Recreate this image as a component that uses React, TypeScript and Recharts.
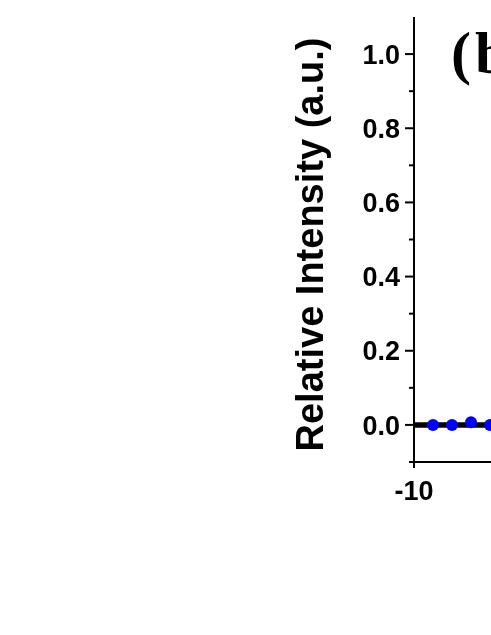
import React from 'react';
import { ComposedChart, Line, XAxis, YAxis } from 'recharts';

// ---- data ----
const fitX = [-10, -9.5, -9, -8.5, -8, -7.5, -7];
const fitY = [0, 0, 0, 0, 0, 0, 0];
const dotX = [-9.5, -9, -8.5, -8, -7.5];
const dotY = [0.0, 0.0, 0.007, 0.0, 0.0];
const xTicks = [-10];
const yTicks = [-0.1, 0, 0.1, 0.2, 0.3, 0.4, 0.5, 0.6, 0.7, 0.8, 0.9, 1.0];
const yLabel = 'Relative Intensity (a.u.)';
const panelLabel = '(b)';

const fitData = fitX.map((x, i) => ({ x, y: fitY[i] }));
const dotData = dotX.map((x, i) => ({ x, y: dotY[i] }));

const SANS = 'Arial, "Liberation Sans", sans-serif';
const SERIF = '"Times New Roman", "Liberation Serif", serif';
const Y_TICK_SIZE = 9;
const Y_TICK_MARGIN = 5;

const YTick = (props: any) => {
  const { x, y, payload } = props;
  const v = payload.value as number;
  const axisX = x + Y_TICK_SIZE + Y_TICK_MARGIN;
  const major = Math.abs(Math.round(v * 10)) % 2 === 0 && v >= 0;
  return (
    <g>
      <line x1={axisX - (major ? 9 : 5)} x2={axisX} y1={y} y2={y} stroke="#000" strokeWidth={2} />
      {major && (
        <text x={x} y={y} dy="0.355em" textAnchor="end" fontFamily={SANS} fontWeight="bold" fontSize={27} fill="#000">
          {v.toFixed(1)}
        </text>
      )}
    </g>
  );
};

// Axis title plus the panel label, positioned relative to the y-axis box
const YLabel = (props: any) => {
  const vb = props.viewBox || {};
  const cx = vb.x + vb.width - 91;
  const cy = vb.y + vb.height / 2 + 5;
  const plotLeft = vb.x + vb.width;
  return (
    <g>
      <text
        x={cx}
        y={cy}
        transform={`rotate(-90, ${cx}, ${cy})`}
        textAnchor="middle"
        fontFamily={SANS}
        fontWeight="bold"
        fontSize={38}
        fill="#000"
      >
        {yLabel}
      </text>
      <text
        x={plotLeft + 37}
        y={vb.y + 56}
        fontFamily={SERIF}
        fontWeight="bold"
        fontSize={60}
        letterSpacing={4}
        fill="#000"
      >
        {panelLabel}
      </text>
    </g>
  );
};

export default function App() {
  return (
    <div style={{ position: 'fixed', left: 8, top: 8, right: 0, height: 560, overflow: 'hidden' }}>
      <ComposedChart width={1200} height={534} margin={{ top: 9, right: 34, bottom: 20, left: 0 }}>
        <XAxis
          xAxisId="top"
          orientation="top"
          type="number"
          dataKey="x"
          domain={[-10, 10]}
          allowDataOverflow
          height={0}
          tick={false}
          tickLine={false}
          axisLine={{ stroke: '#000', strokeWidth: 2 }}
        />
        <XAxis
          xAxisId="bottom"
          orientation="bottom"
          type="number"
          dataKey="x"
          domain={[-10, 10]}
          allowDataOverflow
          ticks={xTicks}
          interval={0}
          height={60}
          tickSize={6}
          tickMargin={13}
          axisLine={{ stroke: '#000', strokeWidth: 2 }}
          tickLine={{ stroke: '#000', strokeWidth: 2 }}
          tick={{ fill: '#000', fontFamily: SANS, fontWeight: 'bold', fontSize: 27 }}
        />
        <YAxis
          type="number"
          domain={[-0.1, 1.1]}
          allowDataOverflow
          ticks={yTicks}
          interval={0}
          width={406}
          tickSize={Y_TICK_SIZE}
          tickMargin={Y_TICK_MARGIN}
          tickLine={false}
          axisLine={{ stroke: '#000', strokeWidth: 2 }}
          tick={<YTick />}
          label={<YLabel />}
        />
        <Line
          xAxisId="bottom"
          data={fitData}
          dataKey="y"
          type="monotone"
          stroke="#000"
          strokeWidth={5.5}
          dot={false}
          isAnimationActive={false}
        />
        <Line
          xAxisId="bottom"
          data={dotData}
          dataKey="y"
          stroke="none"
          dot={{ r: 6, fill: '#0000ff', stroke: 'none' }}
          isAnimationActive={false}
        />
      </ComposedChart>
    </div>
  );
}
